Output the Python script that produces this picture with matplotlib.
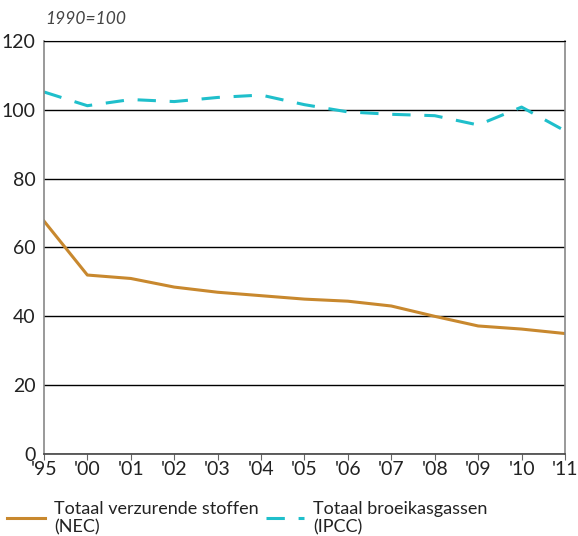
import numpy as np
import matplotlib.pyplot as plt

plt.rcParams["font.family"] = ["Lato", "DejaVu Sans"]

years = ["'95", "'00", "'01", "'02", "'03", "'04", "'05", "'06", "'07", "'08", "'09", "'10", "'11"]
nec = [67.7, 52.0, 51.0, 48.5, 47.0, 46.0, 45.0, 44.4, 43.0, 40.0, 37.2, 36.3, 35.0]
ipcc = [105.2, 101.2, 103.0, 102.4, 103.6, 104.3, 101.5, 99.4, 98.7, 98.3, 95.6, 100.8, 93.9]

label_nec = "Totaal verzurende stoffen\n(NEC)"
label_ipcc = "Totaal broeikasgassen\n(IPCC)"

fig = plt.figure(figsize=(5.78, 5.36), dpi=100)
ax = fig.add_axes([0.076, 0.153, 0.9015, 0.7705])

x = np.arange(len(years))
l1, = ax.plot(x, nec, color="#C8882E", lw=2.2, label=label_nec)
l2, = ax.plot(x, ipcc, color="#1FBFCB", lw=2.2, dashes=(6, 4.5), label=label_ipcc)

ax.set_xlim(0, len(years) - 1)
ax.set_ylim(0, 120)
ax.set_yticks(np.arange(0, 121, 20))
ax.set_xticks(x)
ax.set_xticklabels(years)
ax.yaxis.grid(True, color="black", lw=1.0)
ax.set_axisbelow(True)
ax.tick_params(axis="y", length=0, labelsize=14, pad=6, colors="#222222")
ax.tick_params(axis="x", length=4, labelsize=14, pad=1, colors="#222222")
ax.tick_params(axis="x", color="#666666")
for side in ["left", "right"]:
    ax.spines[side].set_color("#888888")
    ax.spines[side].set_linewidth(1.2)
ax.spines["top"].set_color("black")
ax.spines["bottom"].set_color("#444444")
ax.spines["bottom"].set_linewidth(1.2)

fig.text(0.078, 0.955, "1990=100", style="italic", fontsize=12.5, color="#444444")

fig.legend(handles=[l1], loc="upper left", bbox_to_anchor=(0.012, 0.066), frameon=False,
           fontsize=13, handlelength=2.1, handletextpad=0.5, labelcolor="#222222",
           borderaxespad=0, borderpad=0)
fig.legend(handles=[l2], loc="upper left", bbox_to_anchor=(0.46, 0.066), frameon=False,
           fontsize=13, handlelength=2.1, handletextpad=0.5, labelcolor="#222222",
           borderaxespad=0, borderpad=0)

fig.savefig("out.png", dpi=100)
